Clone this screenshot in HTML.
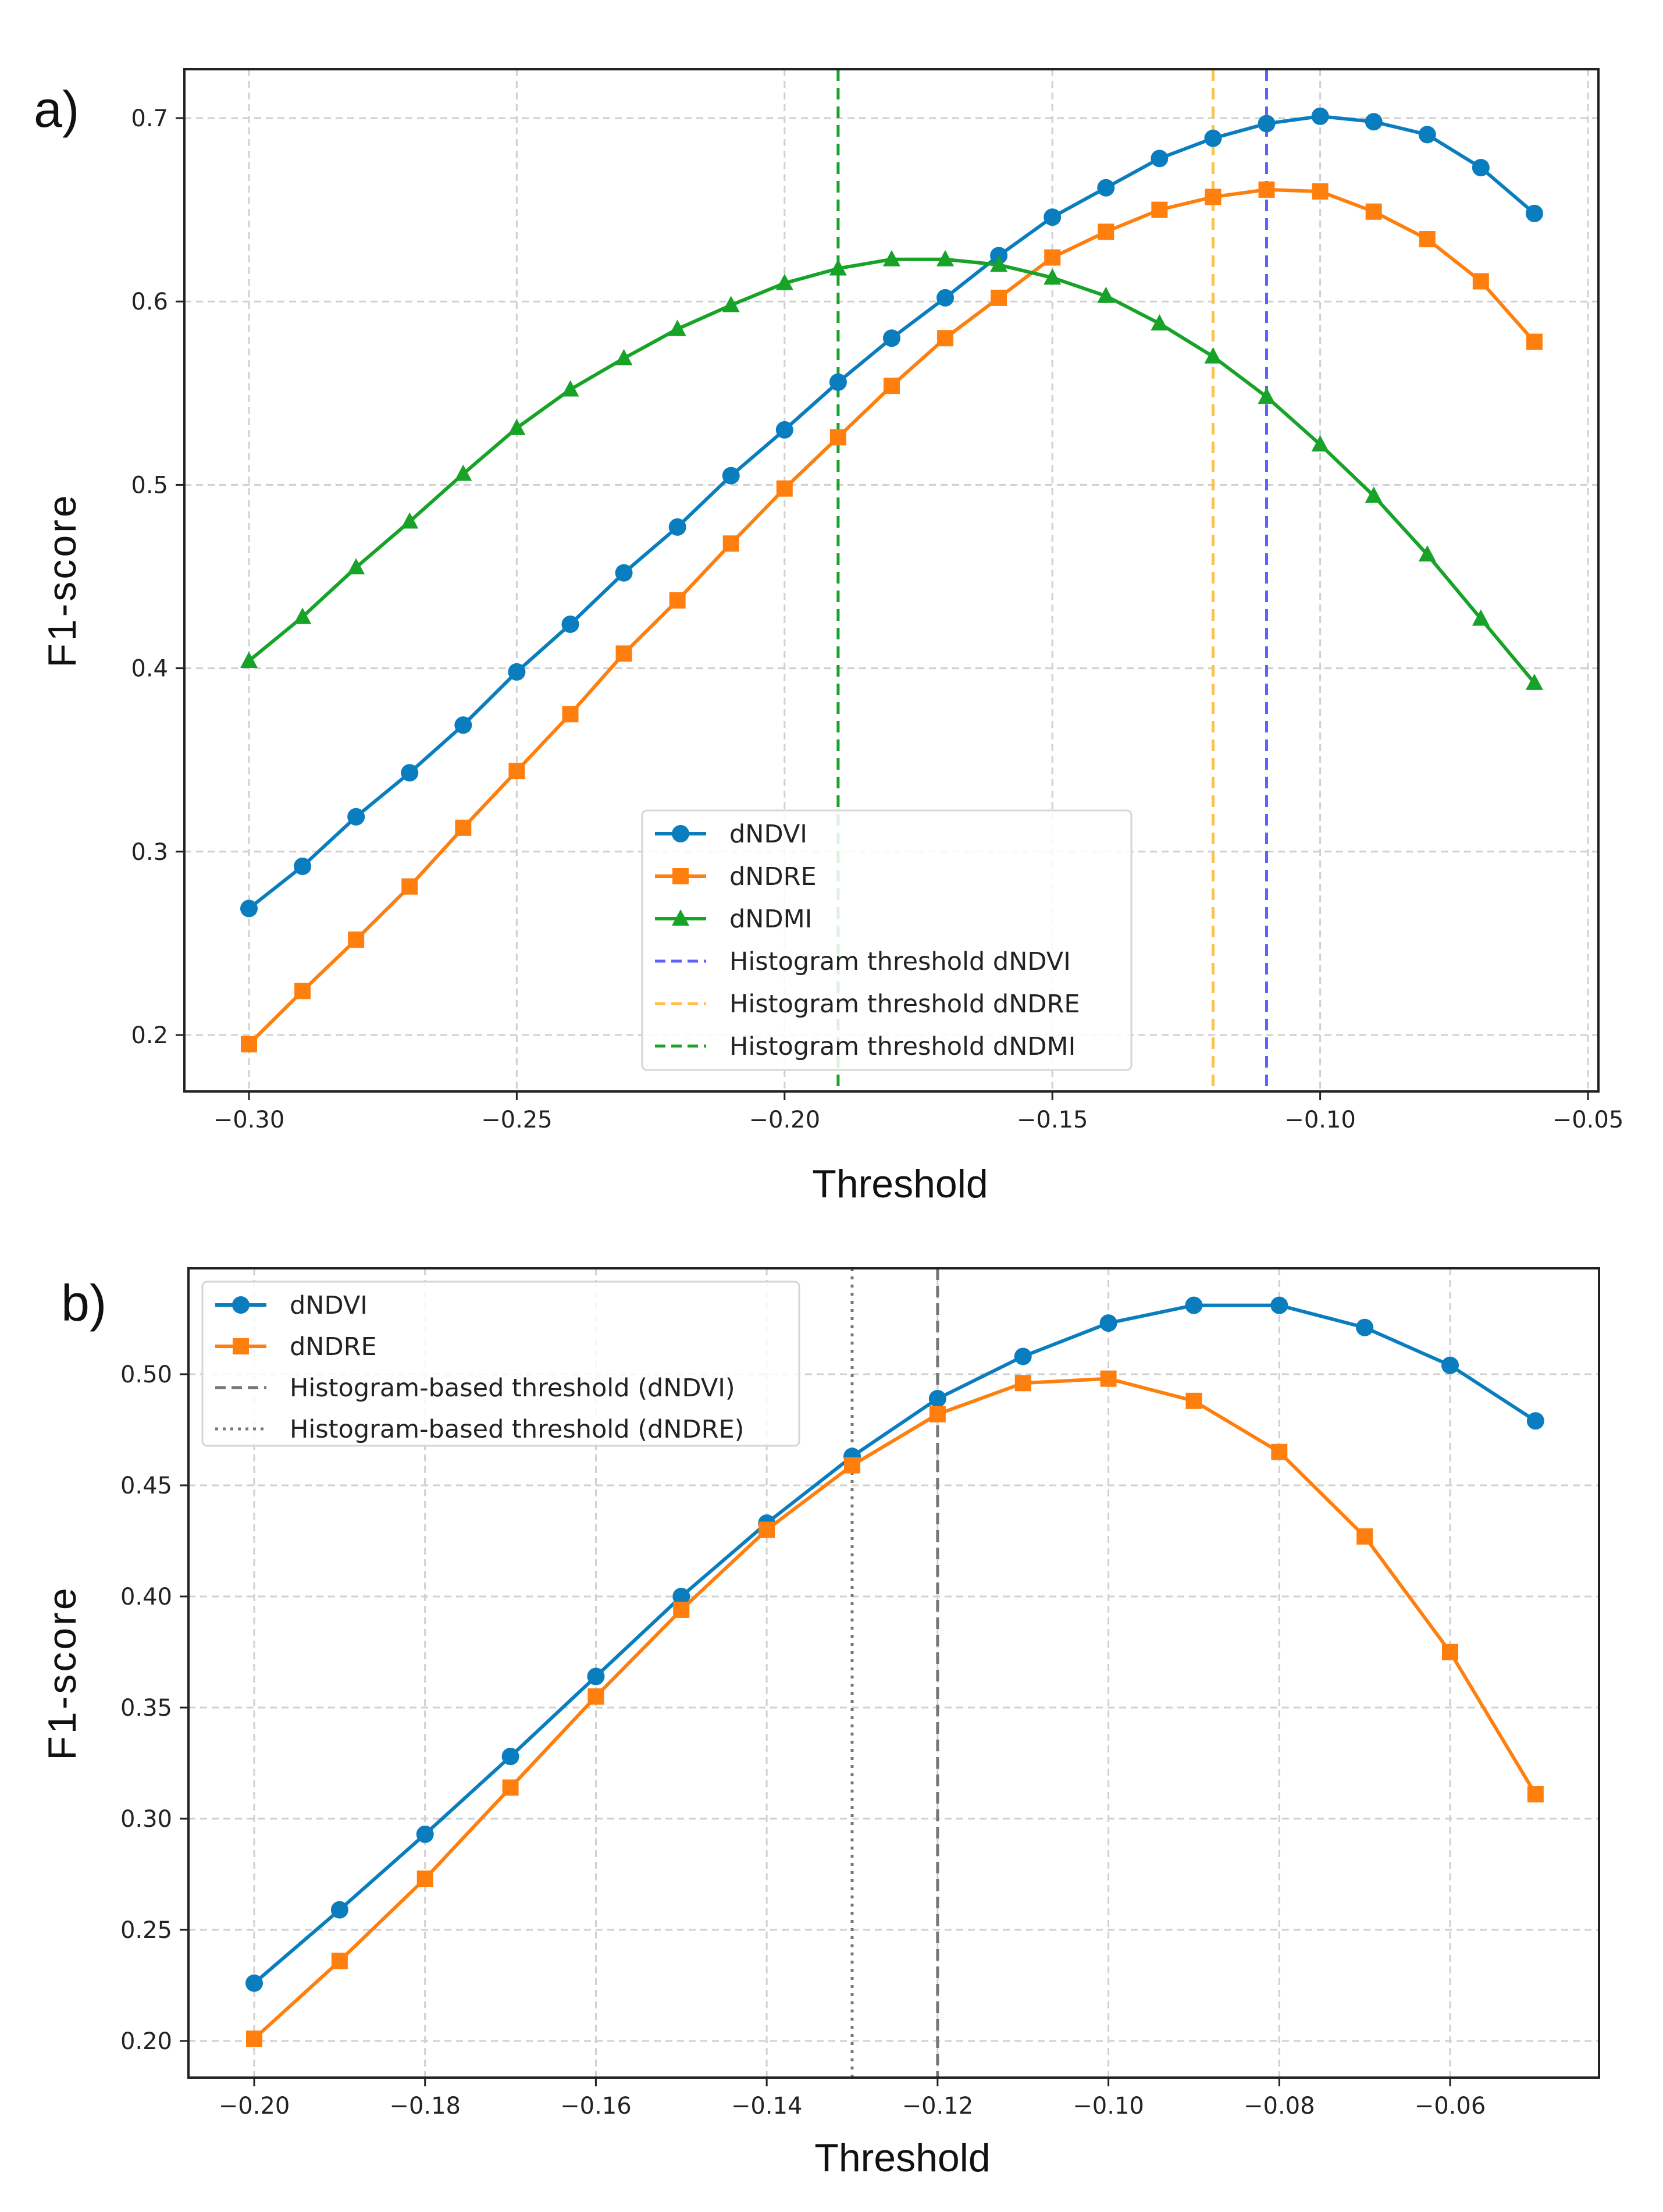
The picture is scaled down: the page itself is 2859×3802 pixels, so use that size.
<!DOCTYPE html>
<html><head><meta charset="utf-8"><style>
html,body{margin:0;padding:0;background:#fff;}
svg{display:block;font-family:"DejaVu Sans","Liberation Sans",sans-serif;}
</style></head><body>
<svg id="fig" width="2859" height="3802" viewBox="0 0 2859 3802" xmlns="http://www.w3.org/2000/svg"></svg>
<script>
// ---- Chart a data ----
const xA = [-0.30,-0.29,-0.28,-0.27,-0.26,-0.25,-0.24,-0.23,-0.22,-0.21,-0.20,-0.19,-0.18,-0.17,-0.16,-0.15,-0.14,-0.13,-0.12,-0.11,-0.10,-0.09,-0.08,-0.07,-0.06];
const ndviA = [.269,.292,.319,.343,.369,.398,.424,.452,.477,.505,.530,.556,.580,.602,.625,.646,.662,.678,.689,.697,.701,.698,.691,.673,.648];
const ndreA = [.195,.224,.252,.281,.313,.344,.375,.408,.437,.468,.498,.526,.554,.580,.602,.624,.638,.650,.657,.661,.660,.649,.634,.611,.578];
const ndmiA = [.404,.428,.455,.480,.506,.531,.552,.569,.585,.598,.610,.618,.623,.623,.620,.613,.603,.588,.570,.548,.522,.494,.462,.427,.392];
const vlinesA = [-0.19,-0.12,-0.11];
const xTicksA = [-0.30,-0.25,-0.20,-0.15,-0.10,-0.05];
const xTickLabelsA = ["\u22120.30","\u22120.25","\u22120.20","\u22120.15","\u22120.10","\u22120.05"];
const yTicksA = [0.2,0.3,0.4,0.5,0.6,0.7];
const yTickLabelsA = ["0.2","0.3","0.4","0.5","0.6","0.7"];
// ---- Chart b data ----
const xB = [-0.20,-0.19,-0.18,-0.17,-0.16,-0.15,-0.14,-0.13,-0.12,-0.11,-0.10,-0.09,-0.08,-0.07,-0.06,-0.05];
const ndviB = [.226,.259,.293,.328,.364,.400,.433,.463,.489,.508,.523,.531,.531,.521,.504,.479];
const ndreB = [.201,.236,.273,.314,.355,.394,.430,.459,.482,.496,.498,.488,.465,.427,.375,.311];
const vlinesB = [-0.12,-0.13];
const xTicksB = [-0.20,-0.18,-0.16,-0.14,-0.12,-0.10,-0.08,-0.06];
const xTickLabelsB = ["\u22120.20","\u22120.18","\u22120.16","\u22120.14","\u22120.12","\u22120.10","\u22120.08","\u22120.06"];
const yTicksB = [0.20,0.25,0.30,0.35,0.40,0.45,0.50];
const yTickLabelsB = ["0.20","0.25","0.30","0.35","0.40","0.45","0.50"];

const NS="http://www.w3.org/2000/svg";
const svg=document.getElementById('fig');
function mk(tag,attrs,parent){const e=document.createElementNS(NS,tag);for(const k in attrs)e.setAttribute(k,attrs[k]);(parent||svg).appendChild(e);return e;}
const BLUE="#0a7dbf",ORANGE="#ff7f0e",GREEN="#16a327";

function marker(g,type,x,y,color){
  let e;
  if(type==='o'){e=mk('circle',{cx:x,cy:y,r:15,fill:color},g);}
  else if(type==='s'){e=mk('rect',{x:x-14,y:y-14,width:28,height:28,fill:color},g);}
  else {e=mk('polygon',{points:`${x},${y-16} ${x+15},${y+12} ${x-15},${y+12}`,fill:color},g);}
  return e;
}

function chart(cfg){
  const {L,T,R,B,sx,sy,name}=cfg;
  const g=mk('g',{});
  
  
  // grid
  cfg.xTicks.forEach((v,i)=>{const x=sx(v);
    const gl=mk('line',{x1:x,x2:x,y1:T,y2:B,stroke:"#d0d0d0","stroke-width":3,"stroke-dasharray":"12 8"},g);
    
    const tk=mk('line',{x1:x,x2:x,y1:B,y2:B+15,stroke:"#222","stroke-width":3},g);
    
    const t=mk('text',{x:x,y:B+62,'font-size':40,'text-anchor':'middle',fill:"#222"},g);t.textContent=cfg.xTickLabels[i];
    
  });
  cfg.yTicks.forEach((v,i)=>{const y=sy(v);
    const gl=mk('line',{x1:L,x2:R,y1:y,y2:y,stroke:"#d0d0d0","stroke-width":3,"stroke-dasharray":"12 8"},g);
    
    const tk=mk('line',{x1:L-15,x2:L,y1:y,y2:y,stroke:"#222","stroke-width":3},g);
    
    const t=mk('text',{x:L-28,y:y+14,'font-size':40,'text-anchor':'end',fill:"#222"},g);t.textContent=cfg.yTickLabels[i];
    
  });
  // vlines
  cfg.vlines.forEach(vl=>{const x=sx(vl.x);
    const l=mk('line',{x1:x,x2:x,y1:T,y2:B,stroke:vl.color,"stroke-width":5,"stroke-dasharray":vl.dash},g);
    
  });
  // series
  cfg.series.forEach(s=>{
    const pts=s.xs.map((v,i)=>sx(v)+','+sy(s.ys[i])).join(' ');
    const pl=mk('polyline',{points:pts,fill:'none',stroke:s.color,'stroke-width':6,'stroke-linejoin':'round'},g);
    
    s.xs.forEach((v,i)=>{const m=marker(g,s.m,sx(v),sy(s.ys[i]),s.color);
      });
  });
  // frame
  const fr=mk('rect',{x:L,y:T,width:R-L,height:B-T,fill:'none',stroke:'#222','stroke-width':4},g);
  
  // labels
  const xl=mk('text',{x:(L+R)/2+15,y:cfg.xlabY,'font-size':68,'text-anchor':'middle',fill:'#111','font-family':'"Liberation Sans",sans-serif'},g);
  xl.textContent='Threshold';
  const yc=(T+B)/2;
  const yl=mk('text',{x:130,y:yc,'font-size':68,'text-anchor':'middle',fill:'#111',transform:`rotate(-90 130 ${yc})`,'font-family':'"Liberation Sans",sans-serif','letter-spacing':4},g);
  yl.textContent='F1-score';
  const pl=mk('text',{x:cfg.panelX,y:cfg.panelY,'font-size':88,fill:'#111','font-family':'"Liberation Sans",sans-serif'},g);
  pl.textContent=cfg.panel;
  // legend
  const lg=cfg.legend;
  const lb=mk('g',{});g.appendChild(lb);
  
  mk('rect',{x:lg.x,y:lg.y,width:lg.w,height:lg.h,rx:8,fill:'rgba(255,255,255,0.85)',stroke:'#d6d6d6','stroke-width':3},lb);
  lg.items.forEach((it,i)=>{
    const y=lg.y+lg.pad+i*lg.step;
    const x0=lg.x+22,x1=lg.x+110;
    const li=mk('line',{x1:x0,x2:x1,y1:y,y2:y,stroke:it.color,'stroke-width':it.m?6:5,'stroke-dasharray':it.dash||'none'},lb);
    
    if(it.m){marker(lb,it.m,(x0+x1)/2,y,it.color);}
    const t=mk('text',{x:lg.x+150,y:y+15,'font-size':43,fill:'#222'},lb);t.textContent=it.label;
    
  });
}

// chart a
(function(){
  const L=317,T=119,R=2748,B=1876;
  const sx=v=>428+(v+0.30)*(2730-428)/0.25;
  const sy=v=>1779-(v-0.2)*(1779-203)/0.5;
  chart({name:'chart-a',L,T,R,B,sx,sy,xTicks:xTicksA,xTickLabels:xTickLabelsA,yTicks:yTicksA,yTickLabels:yTickLabelsA,
    vlines:[{x:vlinesA[0],color:GREEN,dash:'20 12',name:'threshold-dndmi'},{x:vlinesA[1],color:'#ffc247',dash:'20 12',name:'threshold-dndre'},{x:vlinesA[2],color:'#6060ff',dash:'20 12',name:'threshold-dndvi'}],
    series:[{name:'dndvi',xs:xA,ys:ndviA,color:BLUE,m:'o'},{name:'dndre',xs:xA,ys:ndreA,color:ORANGE,m:'s'},{name:'dndmi',xs:xA,ys:ndmiA,color:GREEN,m:'^'}],
    xlabY:2058,panel:'a)',panelX:58,panelY:218,
    legend:{x:1104,y:1393,w:841,h:446,pad:40,step:73,items:[
      {label:'dNDVI',color:BLUE,m:'o'},{label:'dNDRE',color:ORANGE,m:'s'},{label:'dNDMI',color:GREEN,m:'^'},
      {label:'Histogram threshold dNDVI',color:'#6060ff',dash:'18 10'},{label:'Histogram threshold dNDRE',color:'#ffc247',dash:'18 10'},{label:'Histogram threshold dNDMI',color:GREEN,dash:'18 10'}]}
  });
})();
// chart b
(function(){
  const L=324,T=2180,R=2749,B=3571;
  const sx=v=>437+(v+0.20)*(2493-437)/0.14;
  const sy=v=>3508-(v-0.2)*(3508-2362)/0.3;
  chart({name:'chart-b',L,T,R,B,sx,sy,xTicks:xTicksB,xTickLabels:xTickLabelsB,yTicks:yTicksB,yTickLabels:yTickLabelsB,
    vlines:[{x:vlinesB[0],color:'#777',dash:'20 10',name:'threshold-dndvi'},{x:vlinesB[1],color:'#777',dash:'5 9',name:'threshold-dndre'}],
    series:[{name:'dndvi',xs:xB,ys:ndviB,color:BLUE,m:'o'},{name:'dndre',xs:xB,ys:ndreB,color:ORANGE,m:'s'}],
    xlabY:3732,panel:'b)',panelX:105,panelY:2270,
    legend:{x:348,y:2203,w:1026,h:282,pad:40,step:71,items:[
      {label:'dNDVI',color:BLUE,m:'o'},{label:'dNDRE',color:ORANGE,m:'s'},
      {label:'Histogram-based threshold (dNDVI)',color:'#777',dash:'18 10'},{label:'Histogram-based threshold (dNDRE)',color:'#777',dash:'5 8'}]}
  });
})();
</script>
</body></html>
